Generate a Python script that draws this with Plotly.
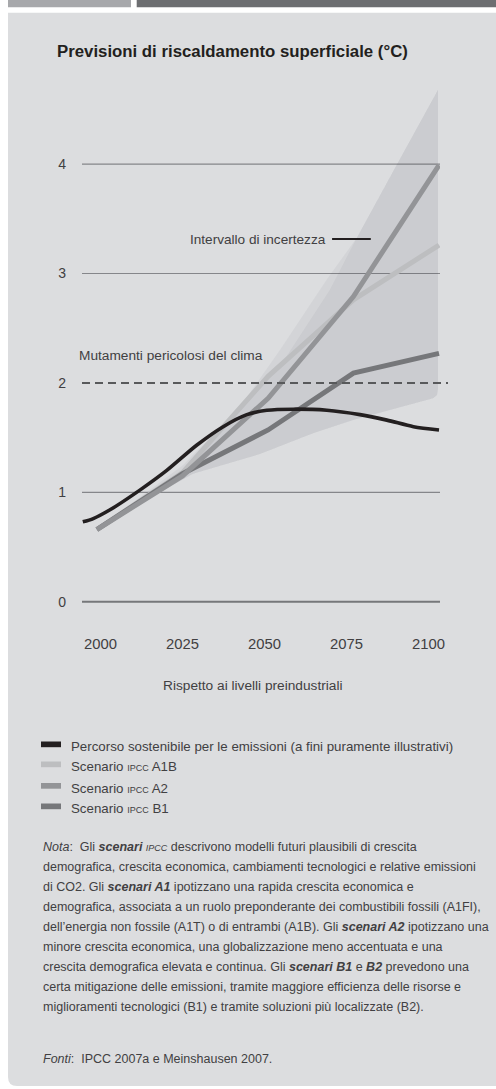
import plotly.graph_objects as go

# ---------------- data ----------------
scen_years = [1998.9, 2025.0, 2051.1, 2077.1, 2103.2]
a1b_vals = [0.66, 1.18, 2.06, 2.76, 3.26]
a2_vals = [0.66, 1.15, 1.86, 2.79, 3.99]
b1_vals = [0.66, 1.17, 1.57, 2.09, 2.27]

path_years = [1994.6, 1997.8, 2002.9, 2012.0, 2020.2, 2029.3, 2037.4, 2044.6,
              2050.7, 2058.8, 2069.0, 2079.1, 2087.3, 2095.4, 2103.2]
path_vals = [0.73, 0.76, 0.84, 1.02, 1.20, 1.43, 1.60, 1.71,
             1.75, 1.76, 1.75, 1.71, 1.66, 1.60, 1.57]

band_upper_years = [1998.9, 2025.2, 2042.5, 2054.7, 2069.1, 2078.2, 2090.4, 2102.9]
band_upper_vals = [0.66, 1.25, 1.78, 2.30, 2.95, 3.33, 4.00, 4.68]
band_lower_years = [1998.9, 2018.1, 2028.2, 2048.6, 2058.7, 2064.8, 2077.0, 2101.4, 2102.6, 2102.9]
band_lower_vals = [0.66, 1.00, 1.17, 1.35, 1.47, 1.54, 1.66, 1.86, 1.89, 1.95]
inner_years = [1998.9, 2024.2, 2039.5, 2054.7, 2069.9, 2078.2]
inner_vals = [0.66, 1.14, 1.66, 2.15, 2.85, 3.33]

danger_level = 2
grid_vals = [0, 1, 3, 4]
y_ticks = [0, 1, 2, 3, 4]
x_ticks = [2000, 2025, 2050, 2075, 2100]

legend_labels = [
    "Percorso sostenibile per le emissioni (a fini puramente illustrativi)",
    "Scenario <span style='font-size:9px'>IPCC</span> A1B",
    "Scenario <span style='font-size:9px'>IPCC</span> A2",
    "Scenario <span style='font-size:9px'>IPCC</span> B1",
]
SC = "<span style='font-size:9px'>IPCC</span>"
note_lines = [
    "<i>Nota</i>:  Gli <b><i>scenari</i></b> <i>" + SC + "</i> descrivono modelli futuri plausibili di crescita",
    "demografica, crescita economica, cambiamenti tecnologici e relative emissioni",
    "di CO2. Gli <b><i>scenari A1</i></b> ipotizzano una rapida crescita economica e",
    "demografica, associata a un ruolo preponderante dei combustibili fossili (A1FI),",
    "dell’energia non fossile (A1T) o di entrambi (A1B). Gli <b><i>scenari A2</i></b> ipotizzano una",
    "minore crescita economica, una globalizzazione meno accentuata e una",
    "crescita demografica elevata e continua. Gli <b><i>scenari B1</i></b> e <b><i>B2</i></b> prevedono una",
    "certa mitigazione delle emissioni, tramite maggiore efficienza delle risorse e",
    "miglioramenti tecnologici (B1) e tramite soluzioni più localizzate (B2).",
]
source_line = "<i>Fonti</i>:  IPCC 2007a e Meinshausen 2007."

# ---------------- styling ----------------
C_PATH = "#231f20"
C_A1B = "#bdbec0"
C_A2 = "#939497"
C_B1 = "#76777a"
C_TEXT = "#414042"
C_PANEL = "#dcdddf"
FONT = "Liberation Sans, Arial, sans-serif"

W_FIG, H_FIG = 496, 1089
L, R, T, B = 82, 440, 80, 612


def fx(x):
    return (x - L) / (R - L)


def fy(y):
    return (B - y) / (B - T)


fig = go.Figure()

# uncertainty band (two overlapping translucent ranges)
fig.add_trace(go.Scatter(
    x=band_upper_years + band_lower_years[::-1],
    y=band_upper_vals + band_lower_vals[::-1],
    fill="toself", mode="lines", line=dict(width=0),
    fillcolor="rgba(60,60,70,0.05)", hoverinfo="skip", showlegend=False))
dark_x = inner_years + band_upper_years[6:] + band_lower_years[::-1]
dark_y = inner_vals + band_upper_vals[6:] + band_lower_vals[::-1]
fig.add_trace(go.Scatter(
    x=dark_x, y=dark_y,
    fill="toself", mode="lines", line=dict(width=0),
    fillcolor="rgba(60,60,70,0.05)", hoverinfo="skip", showlegend=False))

for vals, col in [(a1b_vals, C_A1B), (b1_vals, C_B1), (a2_vals, C_A2)]:
    fig.add_trace(go.Scatter(x=scen_years, y=vals, mode="lines",
                             line=dict(color=col, width=5), showlegend=False,
                             hoverinfo="skip"))

fig.add_trace(go.Scatter(x=path_years, y=path_vals, mode="lines",
                         line=dict(color=C_PATH, width=3.6, shape="spline", smoothing=0.8),
                         showlegend=False, hoverinfo="skip"))

shapes = []
# panel + header bars
shapes.append(dict(type="path", xref="paper", yref="paper", layer="below",
                   path=f"M {fx(8)},{fy(12.7)} L {fx(497)},{fy(12.7)} L {fx(497)},{fy(1086)} "
                        f"L {fx(17)},{fy(1086)} Q {fx(8)},{fy(1086)} {fx(8)},{fy(1077)} Z",
                   fillcolor=C_PANEL, line=dict(width=0)))
shapes.append(dict(type="rect", xref="paper", yref="paper", layer="below",
                   x0=fx(8), x1=fx(131), y0=fy(0), y1=fy(7.3),
                   fillcolor="#a7a8ab", line=dict(width=0)))
shapes.append(dict(type="rect", xref="paper", yref="paper", layer="below",
                   x0=fx(136.7), x1=fx(497), y0=fy(0), y1=fy(7.3),
                   fillcolor="#6d6e71", line=dict(width=0)))
# gridlines
for v in grid_vals:
    shapes.append(dict(type="line", xref="paper", yref="y", layer="below",
                       x0=0, x1=1, y0=v, y1=v,
                       line=dict(color="#76777a" if v == 0 else "#85868a",
                                 width=2 if v == 0 else 1.2)))
# dangerous climate change threshold
shapes.append(dict(type="line", xref="paper", yref="y", layer="above",
                   x0=0, x1=fx(448), y0=danger_level, y1=danger_level,
                   line=dict(color="#58595b", width=2, dash="8px,5px")))
# leader for uncertainty label
shapes.append(dict(type="line", xref="x", yref="y", layer="above",
                   x0=2070.6, x1=2082.4, y0=3.315, y1=3.315,
                   line=dict(color=C_PATH, width=2)))

# legend swatches
leg_y = [746.5, 766.5, 788.0, 808.5]
leg_cols = [C_PATH, C_A1B, C_A2, C_B1]
for yy, col in zip(leg_y, leg_cols):
    shapes.append(dict(type="rect", xref="paper", yref="paper",
                       x0=fx(41), x1=fx(61), y0=fy(yy - 5), y1=fy(yy + 0.7),
                       fillcolor=col, line=dict(width=0)))

ann = []
ann.append(dict(text="<b>Previsioni di riscaldamento superficiale (°C)</b>",
                xref="paper", yref="paper", x=fx(55), y=fy(51),
                xanchor="left", yanchor="middle", showarrow=False,
                font=dict(family=FONT, size=16.8, color=C_PATH)))
ann.append(dict(text="Intervallo di incertezza", xref="x", yref="y",
                x=2069.3, y=3.315, xanchor="right", yanchor="middle", showarrow=False,
                font=dict(family=FONT, size=13.6, color=C_TEXT)))
ann.append(dict(text="Mutamenti pericolosi del clima", xref="paper", yref="paper",
                x=fx(77), y=fy(355), xanchor="left", yanchor="middle", showarrow=False,
                font=dict(family=FONT, size=13.7, color=C_TEXT)))
ann.append(dict(text="Rispetto ai livelli preindustriali", xref="paper", yref="paper",
                x=fx(253.3), y=fy(685), xanchor="center", yanchor="middle", showarrow=False,
                font=dict(family=FONT, size=13.7, color=C_TEXT)))
for yy, lab in zip(leg_y, legend_labels):
    ann.append(dict(text=lab, xref="paper", yref="paper", x=fx(69), y=fy(yy),
                    xanchor="left", yanchor="middle", showarrow=False,
                    font=dict(family=FONT, size=13.3, color=C_TEXT)))
note_y0, note_dy = 846.7, 20.0
for i, line in enumerate(note_lines):
    ann.append(dict(text=line, xref="paper", yref="paper", x=fx(40.5),
                    y=fy(note_y0 + i * note_dy), xanchor="left", yanchor="middle",
                    showarrow=False, font=dict(family=FONT, size=12.5, color=C_TEXT)))
ann.append(dict(text=source_line, xref="paper", yref="paper", x=fx(40.5), y=fy(1059),
                xanchor="left", yanchor="middle", showarrow=False,
                font=dict(family=FONT, size=12.5, color=C_TEXT)))

fig.update_layout(
    width=W_FIG, height=H_FIG,
    margin=dict(l=L, r=W_FIG - R, t=T, b=H_FIG - B, pad=0),
    paper_bgcolor="white", plot_bgcolor="rgba(0,0,0,0)",
    showlegend=False, hovermode=False,
    shapes=shapes, annotations=ann,
    xaxis=dict(range=[1994.36, 2103.5], tickvals=x_ticks, ticks="", showgrid=False,
               zeroline=False, showline=False, ticklabelstandoff=21,
               tickfont=dict(family=FONT, size=14.8, color=C_TEXT)),
    yaxis=dict(range=[-0.094, 4.769], tickvals=y_ticks, ticks="", showgrid=False,
               zeroline=False, showline=False, ticklabelstandoff=15,
               tickfont=dict(family=FONT, size=14, color=C_TEXT)),
)

fig.write_html("out.html", config={"displayModeBar": False},
               post_script="document.body.style.margin='0';")
